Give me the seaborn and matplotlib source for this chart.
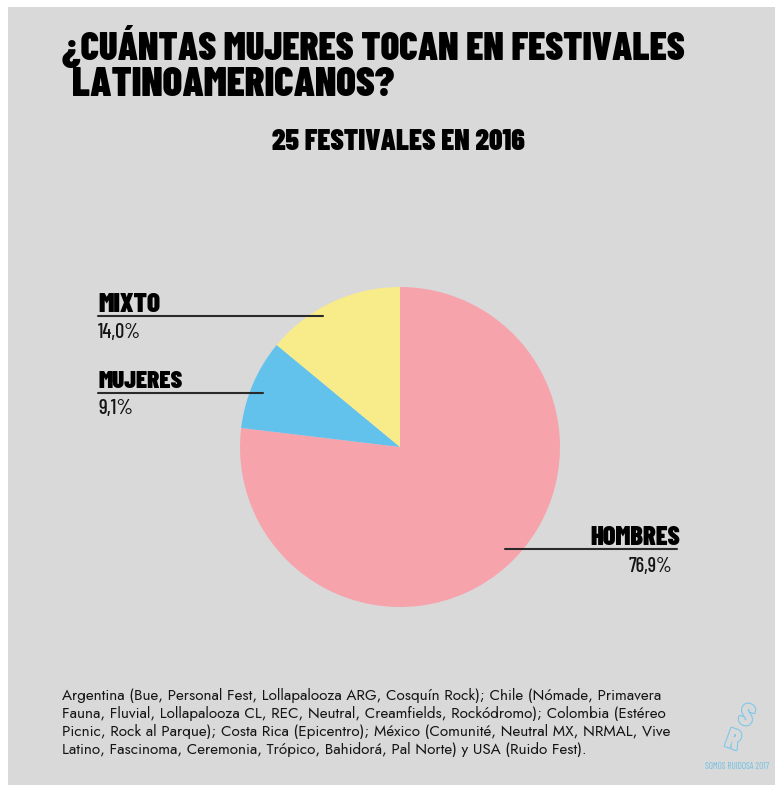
import matplotlib
matplotlib.use("Agg")
import matplotlib.pyplot as plt
import matplotlib.patheffects as pe
import seaborn as sns
from matplotlib import font_manager as fm
from matplotlib.lines import Line2D
from matplotlib.patches import Rectangle

# data
categorias = ["HOMBRES", "MUJERES", "MIXTO"]
porcentajes = [76.9, 9.1, 14.0]
etiquetas_pct = ["76,9%", "9,1%", "14,0%"]
colores = ["#F6A3AC", "#63C2EB", "#F8EB8A"]

titulo = ["¿CUÁNTAS MUJERES TOCAN EN FESTIVALES", "LATINOAMERICANOS?"]
subtitulo = "25 FESTIVALES EN 2016"
nota = ["Argentina (Bue, Personal Fest, Lollapalooza ARG, Cosquín Rock); Chile (Nómade, Primavera",
        "Fauna, Fluvial, Lollapalooza CL, REC, Neutral, Creamfields, Rockódromo); Colombia (Estéreo",
        "Picnic, Rock al Parque); Costa Rica (Epicentro); México (Comunité, Neutral MX, NRMAL, Vive",
        "Latino, Fascinoma, Ceremonia, Trópico, Bahidorá, Pal Norte) y USA (Ruido Fest)."]


def pick(cands, weight="normal"):
    for f in cands:
        try:
            fm.findfont(fm.FontProperties(family=f, weight=weight), fallback_to_default=False)
            return f
        except Exception:
            pass
    return "DejaVu Sans"


sns.set_style("white", {"text.color": "black"})
plt.rcParams["text.color"] = "black"

heavy = pick(["Barlow Condensed", "Saira Condensed", "Oswald", "Liberation Sans Narrow"], "black")
medium = pick(["Barlow Condensed", "Oswald", "Liberation Sans Narrow"], "medium")
book = pick(["Jost", "Questrial", "Lato"])

W, H = 775, 785
BG = "#D9D9D9"
fig = plt.figure(figsize=(W / 100, H / 100), dpi=100)
fig.patch.set_facecolor("white")
rend = fig.canvas.get_renderer()


def px(x, y):
    return x / W, 1 - y / H


def fit(t, width):
    bb = t.get_window_extent(renderer=rend)
    t.set_fontsize(t.get_fontsize() * width / bb.width)
    return t


fig.add_artist(Rectangle(px(8, H), (W - 8) / W, (H - 7) / H, transform=fig.transFigure,
                         facecolor=BG, edgecolor="none", zorder=0))

# title and subtitle
fit(fig.text(*px(62, 60), titulo[0], fontsize=28, fontweight="black", family=heavy,
             va="baseline"), 623)
fit(fig.text(*px(72, 96), titulo[1], fontsize=28, fontweight="black", family=heavy,
             va="baseline"), 323)
fit(fig.text(*px(398, 150), subtitulo, fontsize=18, fontweight="black", family=heavy,
             va="baseline", ha="center"), 253)

# pie: center (400, 447), radius 160 px
cx, cy, r = 400, 447, 160
ax = fig.add_axes([*px(cx - r, cy + r), 2 * r / W, 2 * r / H])
ax.pie(porcentajes, colors=colores, startangle=90, counterclock=False,
       wedgeprops=dict(linewidth=0))
ax.set_xlim(-1, 1)
ax.set_ylim(-1, 1)
ax.set_aspect("equal")
ax.axis("off")

# labels with leader lines
lbl = {
    "MIXTO": dict(y=316, x1=98, x2=323, ha="left", tx=98, tw=62, pw=43, tb=312, pb=338),
    "MUJERES": dict(y=393, x1=98, x2=263, ha="left", tx=98, tw=84, pw=35, tb=388, pb=414),
    "HOMBRES": dict(y=549, x1=505, x2=677, ha="right", tx=680, tw=90, pw=44, tb=545, pb=572,
                    ptx=672),
}
for cat, pct in zip(categorias, etiquetas_pct):
    d = lbl[cat]
    (a, b), (c, e) = px(d["x1"], d["y"]), px(d["x2"], d["y"])
    fig.add_artist(Line2D([a, c], [b, e], transform=fig.transFigure,
                          color="#2A2A2A", linewidth=1.5, zorder=5))
    fit(fig.text(*px(d["tx"], d["tb"]), cat, fontsize=15, fontweight="black",
                 family=heavy, ha=d["ha"], va="baseline"), d["tw"])
    fit(fig.text(*px(d.get("ptx", d["tx"]), d["pb"]), pct, fontsize=16, fontweight="medium",
                 family=medium, ha=d["ha"], va="baseline", color="#151515"), d["pw"])

# footnote
t0 = fit(fig.text(*px(62, 700), nota[0], fontsize=10, family=book, va="baseline",
                  color="#151515"), 596)
for i, linea in enumerate(nota[1:], start=1):
    fig.text(*px(62, 700 + 18 * i), linea, fontsize=t0.get_fontsize(), family=book,
             va="baseline", color="#151515")

# logo
contorno = [pe.Stroke(linewidth=1.6, foreground="#7FC8E9"), pe.Normal()]
fig.text(*px(746, 717), "S", fontsize=22, color=BG, ha="center", va="center",
         fontweight="black", family=heavy, rotation=-20, path_effects=contorno)
fig.text(*px(733, 741), "R", fontsize=20, color=BG, ha="center", va="center",
         fontweight="black", family=heavy, rotation=-20, path_effects=contorno)
fit(fig.text(*px(737, 769), "SOMOS RUIDOSA 2017", fontsize=5, family=medium,
             color="#6FBFE3", ha="center", va="baseline"), 64)

fig.savefig("out.png", dpi=100, facecolor=fig.get_facecolor())
